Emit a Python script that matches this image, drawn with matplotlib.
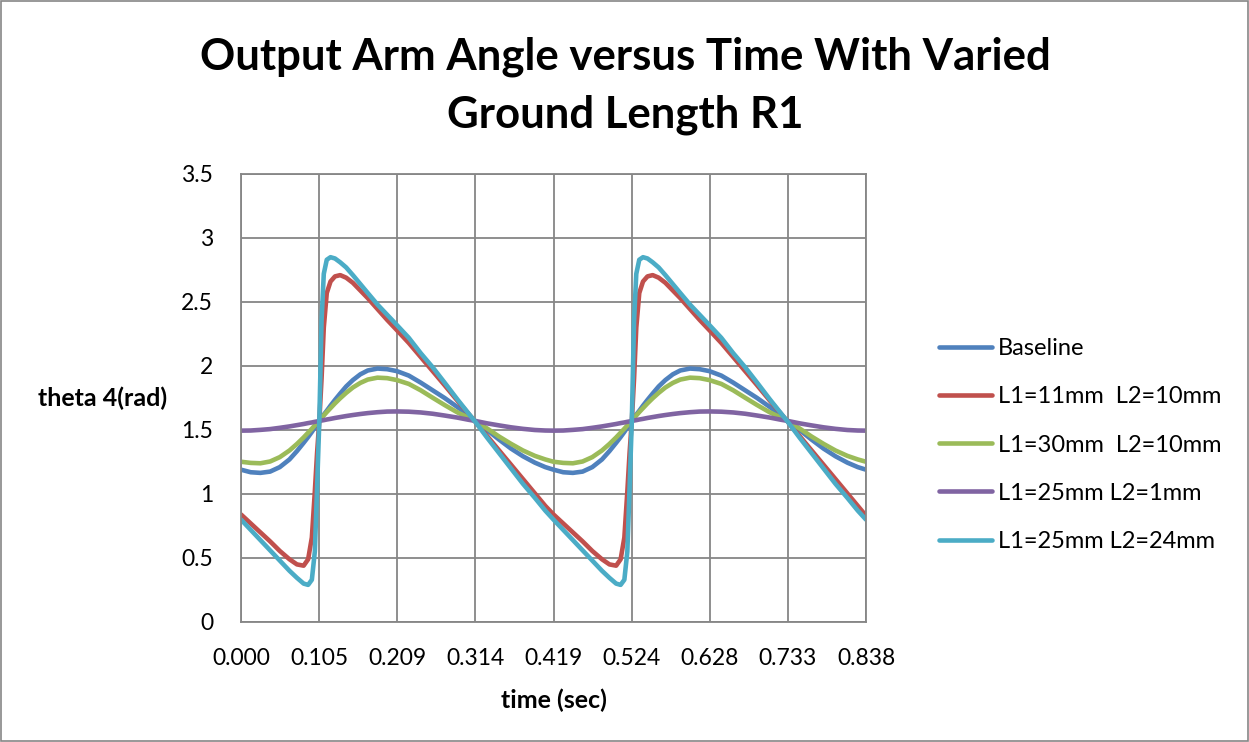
import matplotlib.pyplot as plt
from matplotlib.patches import Rectangle

plt.rcParams['font.family'] = ['Lato', 'DejaVu Sans']

# tiempo (s), dos ciclos de la manivela
time = [0.000, 0.013, 0.026, 0.039, 0.052, 0.065, 0.075, 0.084, 0.090, 0.095,
        0.099, 0.102, 0.105, 0.108, 0.111, 0.115, 0.120, 0.126, 0.133, 0.141,
        0.150, 0.160, 0.170, 0.183, 0.196, 0.209, 0.225, 0.241, 0.257, 0.273,
        0.290, 0.305, 0.314, 0.330, 0.346, 0.362, 0.378, 0.394, 0.408,
        0.419, 0.432, 0.445, 0.458, 0.471, 0.484, 0.494, 0.503, 0.509, 0.514,
        0.518, 0.521, 0.524, 0.527, 0.530, 0.534, 0.539, 0.545, 0.552, 0.560,
        0.569, 0.579, 0.589, 0.602, 0.615, 0.628, 0.644, 0.660, 0.676, 0.692,
        0.709, 0.724, 0.733, 0.749, 0.765, 0.781, 0.797, 0.813, 0.827, 0.838]

baseline = [1.19, 1.17, 1.165, 1.175, 1.21, 1.27, 1.335, 1.40, 1.445, 1.485,
            1.52, 1.545, 1.57, 1.595, 1.62, 1.65, 1.69, 1.735, 1.785, 1.84,
            1.89, 1.935, 1.965, 1.98, 1.975, 1.96, 1.925, 1.87, 1.81, 1.75,
            1.68, 1.615, 1.57, 1.50, 1.425, 1.355, 1.295, 1.245, 1.21,
            1.19, 1.17, 1.165, 1.175, 1.21, 1.27, 1.335, 1.40, 1.445, 1.485,
            1.52, 1.545, 1.57, 1.595, 1.62, 1.65, 1.69, 1.735, 1.785, 1.84,
            1.89, 1.935, 1.965, 1.98, 1.975, 1.96, 1.925, 1.87, 1.81, 1.75,
            1.68, 1.615, 1.57, 1.50, 1.425, 1.355, 1.295, 1.245, 1.21, 1.19]

l1_11_l2_10 = [0.84, 0.77, 0.70, 0.63, 0.555, 0.49, 0.45, 0.44, 0.49, 0.66,
               1.02, 1.32, 1.57, 1.90, 2.30, 2.57, 2.66, 2.70, 2.71, 2.69,
               2.65, 2.59, 2.53, 2.445, 2.36, 2.28, 2.18, 2.07, 1.96, 1.85,
               1.73, 1.627, 1.565, 1.453, 1.341, 1.229, 1.117, 1.005, 0.907,
               0.84, 0.77, 0.70, 0.63, 0.555, 0.49, 0.45, 0.44, 0.49, 0.66,
               1.02, 1.32, 1.57, 1.90, 2.30, 2.57, 2.66, 2.70, 2.71, 2.69,
               2.65, 2.59, 2.53, 2.445, 2.36, 2.28, 2.18, 2.07, 1.96, 1.85,
               1.73, 1.627, 1.565, 1.453, 1.341, 1.229, 1.117, 1.005, 0.907, 0.83]

l1_30_l2_10 = [1.252, 1.243, 1.24, 1.254, 1.288, 1.34, 1.391, 1.442, 1.479, 1.51,
               1.536, 1.556, 1.575, 1.594, 1.614, 1.64, 1.671, 1.708, 1.748, 1.79,
               1.832, 1.868, 1.894, 1.909, 1.905, 1.89, 1.86, 1.81, 1.752, 1.695,
               1.638, 1.596, 1.57, 1.512, 1.449, 1.392, 1.34, 1.298, 1.27,
               1.252, 1.243, 1.24, 1.254, 1.288, 1.34, 1.391, 1.442, 1.479, 1.51,
               1.536, 1.556, 1.575, 1.594, 1.614, 1.64, 1.671, 1.708, 1.748, 1.79,
               1.832, 1.868, 1.894, 1.909, 1.905, 1.89, 1.86, 1.81, 1.752, 1.695,
               1.638, 1.596, 1.57, 1.512, 1.449, 1.392, 1.34, 1.298, 1.27, 1.252]

l1_25_l2_1 = [1.495, 1.496, 1.501, 1.507, 1.517, 1.528, 1.538, 1.547, 1.554, 1.559,
              1.564, 1.567, 1.570, 1.574, 1.577, 1.582, 1.587, 1.594, 1.601, 1.609,
              1.617, 1.625, 1.632, 1.639, 1.644, 1.645, 1.643, 1.637, 1.627, 1.613,
              1.597, 1.580, 1.571, 1.552, 1.536, 1.521, 1.509, 1.500, 1.496,
              1.495, 1.496, 1.501, 1.507, 1.517, 1.528, 1.538, 1.547, 1.554, 1.559,
              1.564, 1.567, 1.570, 1.574, 1.577, 1.582, 1.587, 1.594, 1.601, 1.609,
              1.617, 1.625, 1.632, 1.639, 1.644, 1.645, 1.643, 1.637, 1.627, 1.613,
              1.597, 1.580, 1.571, 1.552, 1.536, 1.521, 1.509, 1.500, 1.496, 1.495]

l1_25_l2_24 = [0.80, 0.72, 0.64, 0.56, 0.48, 0.40, 0.345, 0.30, 0.29, 0.33,
               0.55, 1.05, 1.57, 2.35, 2.72, 2.83, 2.85, 2.84, 2.81, 2.77,
               2.71, 2.64, 2.57, 2.48, 2.40, 2.32, 2.22, 2.10, 1.99, 1.87,
               1.74, 1.63, 1.565, 1.44, 1.32, 1.20, 1.08, 0.97, 0.87,
               0.80, 0.72, 0.64, 0.56, 0.48, 0.40, 0.345, 0.30, 0.29, 0.33,
               0.55, 1.05, 1.57, 2.35, 2.72, 2.83, 2.85, 2.84, 2.81, 2.77,
               2.71, 2.64, 2.57, 2.48, 2.40, 2.32, 2.22, 2.10, 1.99, 1.87,
               1.74, 1.63, 1.565, 1.44, 1.32, 1.20, 1.08, 0.97, 0.87, 0.80]

series_names = ['Baseline', 'L1=11mm  L2=10mm', 'L1=30mm  L2=10mm',
                'L1=25mm L2=1mm', 'L1=25mm L2=24mm']
colors = ['#4F81BD', '#C0504D', '#9BBB59', '#8064A2', '#4BACC6']

xtick_labels = ['0.000', '0.105', '0.209', '0.314', '0.419',
                '0.524', '0.628', '0.733', '0.838']
ytick_labels = ['0', '0.5', '1', '1.5', '2', '2.5', '3', '3.5']

fig = plt.figure(figsize=(12.49, 7.42), dpi=100)
ax = fig.add_axes([241 / 1249, 1 - 622 / 742, 625 / 1249, 448 / 742])

# borde exterior del grafico
fig.patches.append(Rectangle((0.0008, 0.001), 0.998, 0.997, transform=fig.transFigure,
                             fill=False, edgecolor='#868686', linewidth=1.2))

all_series = [baseline, l1_11_l2_10, l1_30_l2_10, l1_25_l2_1, l1_25_l2_24]
for vals, name, c in zip(all_series, series_names, colors):
    ax.plot(time, vals, color=c, lw=3.3, label=name,
            solid_capstyle='round', solid_joinstyle='round')

ax.set_xlim(0, 0.838)
ax.set_ylim(0, 3.5)
xt = [0.838 * i / 8 for i in range(9)]
ax.set_xticks(xt)
ax.set_xticklabels(xtick_labels)
ax.set_yticks([0.5 * i for i in range(8)])
ax.set_yticklabels(ytick_labels)
ax.grid(True, color='#868686', lw=1.3)
ax.set_axisbelow(True)
for s in ax.spines.values():
    s.set_color('#868686')
    s.set_linewidth(1.3)
ax.tick_params(length=0, labelsize=16.5)
ax.tick_params(axis='x', pad=19)
ax.tick_params(axis='y', pad=20)

ax.set_xlabel('time (sec)', fontsize=18, fontweight='bold', labelpad=14)
fig.text(103 / 1249, 1 - 398 / 742, 'theta 4(rad)', fontsize=18, fontweight='bold',
         ha='center', va='center')

fig.text(625 / 1249, 1 - 57 / 742, 'Output Arm Angle versus Time With Varied',
         fontsize=31.5, fontweight='bold', ha='center', va='center')
fig.text(625 / 1249, 1 - 115 / 742, 'Ground Length R1',
         fontsize=31.5, fontweight='bold', ha='center', va='center')

ax.legend(loc='center left', bbox_to_anchor=(927 / 1249, 1 - 445 / 742),
          bbox_transform=fig.transFigure, frameon=False, fontsize=17,
          handlelength=2.25, handletextpad=0.25, labelspacing=1.15, borderpad=0)

fig.savefig('out.png', dpi=100)
